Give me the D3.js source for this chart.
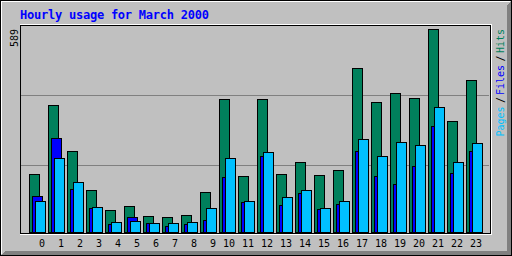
<!DOCTYPE html>
<html>
<head>
<meta charset="utf-8">
<script src="https://cdn.jsdelivr.net/npm/d3@7"></script>
<style>
  body { margin: 0; background: #fff; }
  svg { display: block; }
  text { font-family: "DejaVu Sans Mono", "Liberation Mono", monospace; }
</style>
</head>
<body>
<svg id="chart"></svg>
<script>
// Hourly usage chart, webalizer style
const title = "Hourly usage for March 2000";
const hours = [0, 1, 2, 3, 4, 5, 6, 7, 8, 9, 10, 11, 12, 13, 14, 15, 16, 17, 18, 19, 20, 21, 22, 23];
const hits  = [168, 369, 235, 122, 64, 75, 46, 44, 49, 116, 386, 163, 386, 168, 203, 165, 180, 476, 377, 403, 389, 589, 322, 441];
const files = [105, 273, 125, 70, 23, 44, 26, 17, 23, 35, 160, 87, 221, 78, 113, 67, 81, 235, 163, 139, 192, 308, 171, 235];
const pages = [90, 215, 145, 73, 29, 32, 26, 26, 29, 70, 215, 90, 232, 102, 122, 70, 90, 270, 221, 261, 252, 363, 203, 258];
const legendLabels = ["Pages", "Files", "Hits"];

const W = 512, H = 256;
const grey = "#c0c0c0", dkgrey = "#808080";
const colors = { Hits: "#00805c", Files: "#0000ff", Pages: "#00c0ff" };

const svg = d3.select("#chart")
    .attr("width", W)
    .attr("height", H)
    .attr("shape-rendering", "crispEdges");

// outer border + shadow
svg.append("rect")
    .attr("x", 0.5).attr("y", 0.5)
    .attr("width", W - 1).attr("height", H - 1)
    .attr("fill", grey).attr("stroke", "#000");

svg.append("path")
    .attr("d", `M1,1.5H${W - 2}M1.5,1V${H - 2}`)
    .attr("stroke", "#fff");

for (let i = 1; i < 5; i++) {
    svg.append("path")
        .attr("d", `M${i + 1},${H - i - 0.5}H${W - 1}M${W - i - 0.5},${i + 1}V${H - 1}`)
        .attr("stroke", dkgrey);
}

// plot box
const box = { left: 20, top: 25, right: 490, bottom: 233 };
svg.append("path")
    .attr("d", `M${box.left},${box.top - 0.5}H${box.right + 2}M${box.right + 1.5},${box.top - 1}V${box.bottom + 2}M${box.left},${box.bottom + 1.5}H${box.right + 2}`)
    .attr("stroke", "#fff");
svg.append("rect")
    .attr("x", box.left + 0.5).attr("y", box.top + 0.5)
    .attr("width", box.right - box.left).attr("height", box.bottom - box.top)
    .attr("fill", "none").attr("stroke", "#000");

// grid lines at thirds
const gridY = d3.scaleLinear().domain([0, 3]).range([235, 25]);
svg.selectAll(".grid")
    .data([1, 2])
    .join("line")
    .attr("x1", box.left + 1).attr("x2", box.right - 1)
    .attr("y1", d => gridY(d) + 0.5).attr("y2", d => gridY(d) + 0.5)
    .attr("stroke", dkgrey);

// scales
const x = d3.scaleLinear().domain([0, 23]).range([29, 466]);
const y = d3.scaleLinear().domain([0, d3.max(hits)]).range([232, 29]);

const series = [
    { name: "Hits", values: hits, off: 0 },
    { name: "Files", values: files, off: 3 },
    { name: "Pages", values: pages, off: 6 }
];

const groups = svg.selectAll(".hour")
    .data(hours)
    .join("g");

series.forEach(s => {
    groups.append("rect")
        .attr("x", d => x(d) + s.off + 0.5)
        .attr("y", d => Math.round(y(s.values[d])) + 0.5)
        .attr("width", 10)
        .attr("height", d => 232 - Math.round(y(s.values[d])))
        .attr("fill", colors[s.name])
        .attr("stroke", "#000");
});

// hour labels
svg.selectAll(".hlabel")
    .data(hours)
    .join("text")
    .attr("x", d => x(d) + 16)
    .attr("y", 247)
    .attr("text-anchor", "end")
    .attr("font-size", "10px")
    .attr("fill", "#000")
    .text(d => d);

// title
svg.append("text")
    .attr("x", 20).attr("y", 19)
    .attr("font-size", "12px")
    .attr("font-weight", "bold")
    .attr("fill", "#0000ff")
    .attr("textLength", title.length * 7)
    .text(title);

// max value label
svg.append("text")
    .attr("transform", "translate(17.5,47) rotate(-90)")
    .attr("font-size", "10px")
    .attr("fill", "#000")
    .text(d3.max(hits));

// right legend, drawn upward piece by piece
const legendPieces = [
    { t: legendLabels[0], c: colors.Pages, y: 121.5 },
    { t: "/", c: "#000", y: 100 },
    { t: legendLabels[1], c: colors.Files, y: 80 },
    { t: "/", c: "#000", y: 58.5 },
    { t: legendLabels[2], c: colors.Hits, y: 41 }
];
svg.selectAll(".legend")
    .data(legendPieces)
    .join("text")
    .attr("transform", d => `translate(504,${d.y}) rotate(-90)`)
    .attr("text-anchor", "middle")
    .attr("font-size", "10px")
    .attr("fill", d => d.c)
    .text(d => d.t);
</script>
</body>
</html>
